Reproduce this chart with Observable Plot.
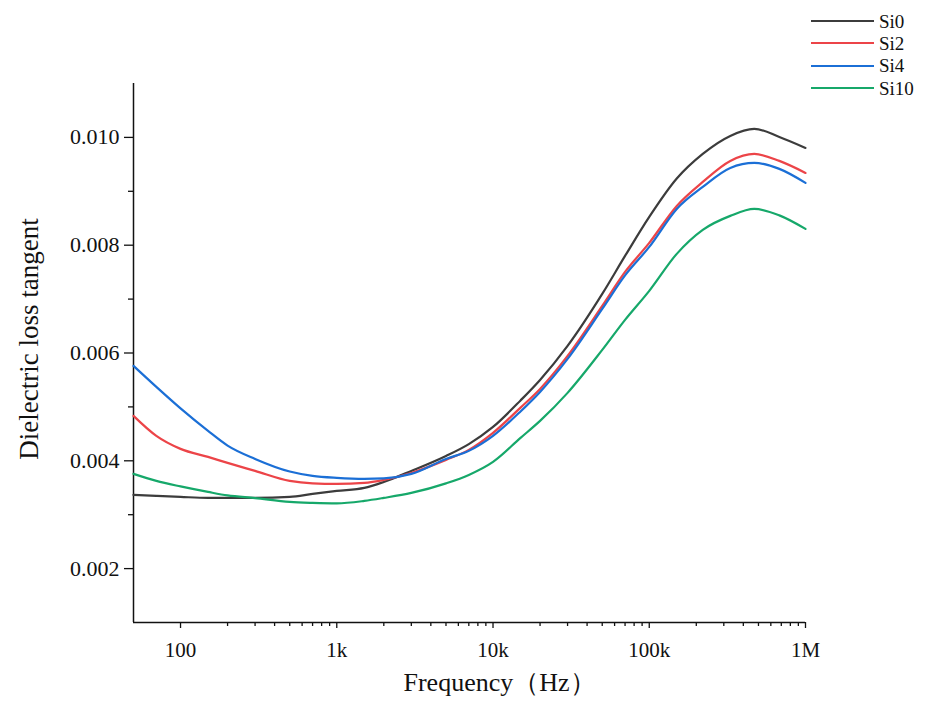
<!DOCTYPE html>
<html>
<head>
<meta charset="utf-8">
<script src="https://cdn.jsdelivr.net/npm/d3@7"></script>
<script src="https://cdn.jsdelivr.net/npm/@observablehq/plot@0.6"></script>
<style>
  body { margin: 0; background: #fff; }
  #wrap { position: relative; width: 938px; height: 704px; }
  #legend { position: absolute; left: 811px; top: 10px; font-family: "Liberation Serif", serif; font-size: 19px; color: #111; }
  .row { display: flex; align-items: center; height: 22.3px; line-height: 19px; }
  .sw { width: 63px; height: 0; border-top: 2px solid; margin-right: 5px; }
</style>
</head>
<body>
<div id="wrap"><div id="legend"></div></div>
<script>
const series = ["Si0", "Si2", "Si4", "Si10"];
const colors = ["#3c3c3c", "#ec4448", "#1b6fd6", "#16a86a"];
const freq = [50, 70, 100, 150, 200, 300, 500, 700, 1000, 1500, 2000, 3000, 5000, 7000, 10000, 15000, 20000, 30000, 50000, 70000, 100000, 150000, 220000, 330000, 470000, 680000, 1000000];
const si0 = [0.003367, 0.003349, 0.003330, 0.003312, 0.003312, 0.003312, 0.003330, 0.003386, 0.003441, 0.003497, 0.003608, 0.003812, 0.004090, 0.004310, 0.004628, 0.005120, 0.005500, 0.006131, 0.007096, 0.007801, 0.008525, 0.009237, 0.009694, 0.010028, 0.010158, 0.010009, 0.009805];
const si2 = [0.004833, 0.004462, 0.004221, 0.004072, 0.003961, 0.003813, 0.003627, 0.003581, 0.003571, 0.003590, 0.003646, 0.003775, 0.004017, 0.004202, 0.004518, 0.004987, 0.005334, 0.005946, 0.006874, 0.007505, 0.008043, 0.008729, 0.009174, 0.009564, 0.009694, 0.009564, 0.009341];
const si4 = [0.005761, 0.005371, 0.004972, 0.004555, 0.004282, 0.004035, 0.003801, 0.003720, 0.003683, 0.003664, 0.003673, 0.003757, 0.004035, 0.004184, 0.004462, 0.004916, 0.005278, 0.005890, 0.006818, 0.007440, 0.007968, 0.008673, 0.009082, 0.009434, 0.009527, 0.009416, 0.009156];
const si10 = [0.003757, 0.003627, 0.003525, 0.003423, 0.003358, 0.003308, 0.003237, 0.003219, 0.003210, 0.003256, 0.003312, 0.003404, 0.003581, 0.003738, 0.003980, 0.004425, 0.004740, 0.005260, 0.006057, 0.006614, 0.007152, 0.007839, 0.008284, 0.008544, 0.008673, 0.008553, 0.008302];
const xTicks = [100, 1000, 10000, 100000, 1000000];
const xTickLabels = ["100", "1k", "10k", "100k", "1M"];
const yTicks = [0.002, 0.004, 0.006, 0.008, 0.010];
const yMinorTicks = [0.003, 0.005, 0.007, 0.009];
const xDomain = [50, 1000000];
const yDomain = [0.001, 0.011];

const values = [si0, si2, si4, si10];
const data = [];
series.forEach((s, k) => freq.forEach((f, i) => data.push({series: s, f, v: values[k][i]})));

const xMinor = [];
for (let e = 2; e < 6; e++) for (let m = 2; m <= 9; m++) xMinor.push(m * 10 ** e);

const chart = Plot.plot({
  width: 938,
  height: 704,
  marginLeft: 133,
  marginRight: 133,
  marginTop: 83,
  marginBottom: 82,
  style: {fontFamily: "Liberation Serif, serif", fontSize: "21px", color: "#111", background: "transparent"},
  x: {type: "log", domain: xDomain},
  y: {domain: yDomain},
  color: {domain: series, range: colors},
  marks: [
    Plot.axisX({ticks: xMinor, tickFormat: () => "", tickSize: 4, strokeWidth: 1.3, label: null}),
    Plot.axisX({ticks: xTicks, tickFormat: (d) => xTickLabels[xTicks.indexOf(d)], tickSize: 6, tickPadding: 14, strokeWidth: 1.3, label: null}),
    Plot.axisY({ticks: yMinorTicks, tickFormat: () => "", tickSize: 5, strokeWidth: 1.3, label: null}),
    Plot.axisY({ticks: yTicks, tickFormat: d3.format(".3f"), tickSize: 9, tickPadding: 5, fontSize: 22, strokeWidth: 1.3, label: null}),
    Plot.ruleX([xDomain[0]], {stroke: "#111", strokeWidth: 1.5}),
    Plot.ruleY([yDomain[0]], {stroke: "#111", strokeWidth: 1.5}),
    Plot.line(data, {x: "f", y: "v", z: "series", stroke: "series", strokeWidth: 2.2, curve: "monotone-x"}),
    Plot.text(["Frequency（Hz）"], {frameAnchor: "bottom", textAnchor: "middle", dx: 30, dy: 68, fontSize: 26, fill: "#111"}),
    Plot.text(["Dielectric loss tangent"], {frameAnchor: "left", textAnchor: "middle", rotate: -90, dx: -104, dy: -14, fontSize: 27, fill: "#111"})
  ]
});
const wrap = document.getElementById("wrap");
wrap.insertBefore(chart, wrap.firstChild);

const legend = document.getElementById("legend");
series.forEach((s, i) => {
  const row = document.createElement("div");
  row.className = "row";
  row.innerHTML = `<div class="sw" style="border-color:${colors[i]}"></div><span>${s}</span>`;
  legend.appendChild(row);
});
</script>
</body>
</html>
